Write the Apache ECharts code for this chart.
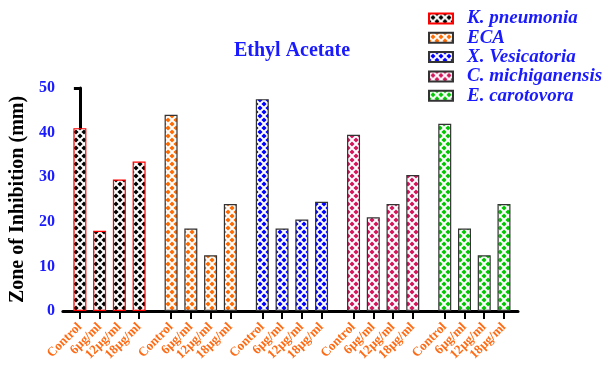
<!DOCTYPE html>
<html>
<head>
<meta charset="utf-8">
<script src="https://cdn.jsdelivr.net/npm/echarts@6/dist/echarts.min.js"></script>
<style>html,body{margin:0;padding:0;background:#fff}#c{width:605px;height:371px}</style>
</head>
<body>
<div id="c"></div>
<script>
// ---- data ----
const doseLabels = ['Control', '6µg/ml', '12µg/ml', '18µg/ml'];
const seriesNames = ['K. pneumonia', 'ECA', 'X. Vesicatoria', 'C. michiganensis', 'E. carotovora'];
const kPneumonia = [41, 18, 29.5, 33.5];
const eca = [44, 18.5, 12.5, 24];
const xVesicatoria = [47.5, 18.5, 20.5, 24.5];
const cMichiganensis = [39.5, 21, 24, 30.5];
const eCarotovora = [42, 18.5, 12.5, 24];
const yTicks = [0, 10, 20, 30, 40, 50];

// ---- styling ----
const dotColors = ['#000000', '#FF6A00', '#0000FF', '#D4145A', '#00C800'];
const borderColors = ['#FF0000', '#333333', '#333333', '#333333', '#333333'];
const serif = 'Liberation Serif';
const groupStep = 4.62;

function makePattern(color) {
  const s = 8;
  const cv = document.createElement('canvas');
  cv.width = s; cv.height = s;
  const ctx = cv.getContext('2d');
  ctx.fillStyle = '#ffffff';
  ctx.fillRect(0, 0, s, s);
  ctx.fillStyle = color;
  const r = 2.6;
  const pts = [[0,0],[s,0],[0,s],[s,s],[s/2,s/2]];
  pts.forEach(([x,y]) => {
    ctx.beginPath();
    ctx.moveTo(x, y - r); ctx.lineTo(x + r, y); ctx.lineTo(x, y + r); ctx.lineTo(x - r, y); ctx.closePath();
    ctx.fill();
  });
  return cv;
}

const allValues = [kPneumonia, eca, xVesicatoria, cMichiganensis, eCarotovora];
const positions = [];
const posLabels = [];
allValues.forEach((vals, g) => {
  vals.forEach((v, i) => { positions.push(g * groupStep + i); posLabels.push(doseLabels[i]); });
});
function labelFor(v) {
  for (let k = 0; k < positions.length; k++) if (Math.abs(positions[k] - v) < 1e-6) return posLabels[k];
  return '';
}

const series = allValues.map((vals, g) => ({
  name: seriesNames[g],
  type: 'bar',
  barWidth: 13,
  barGap: '-100%',
  data: vals.map((v, i) => [g * groupStep + i, v]),
  itemStyle: {
    color: { image: makePattern(dotColors[g]), repeat: 'repeat' },
    borderColor: borderColors[g],
    borderWidth: 1.2
  }
}));

const chart = echarts.init(document.getElementById('c'), null, { renderer: 'canvas' });
chart.setOption({
  animation: false,
  backgroundColor: '#ffffff',
  title: {
    text: 'Ethyl Acetate',
    left: 292, top: 41, textAlign: 'center', padding: 0,
    textStyle: { fontFamily: serif, fontSize: 20, fontWeight: 'bold', color: '#1a1aff' }
  },
  legend: {
    orient: 'vertical',
    left: 428, top: 9, padding: 0,
    itemWidth: 24, itemHeight: 10, itemGap: 0.3,
    icon: 'rect',
    textStyle: { fontFamily: serif, fontSize: 19, fontWeight: 'bold', fontStyle: 'italic', color: '#1a1aff', padding: [0,0,0,9] },
    data: seriesNames
  },
  grid: { left: 62, right: 87, top: 88, bottom: 60, containLabel: false },
  xAxis: {
    type: 'value',
    min: -0.86, max: 4 * groupStep + 3 + 0.71,
    splitLine: { show: false },
    axisLine: { show: true, onZero: false, lineStyle: { color: '#000', width: 3 } },
    axisTick: { show: true, customValues: positions, length: 8, inside: false, lineStyle: { color: '#000', width: 2 } },
    axisLabel: {
      customValues: positions,
      formatter: v => labelFor(v),
      rotate: 45, margin: 14,
      fontFamily: serif, fontSize: 13, fontWeight: 'bold', color: '#FF6A13'
    }
  },
  yAxis: {
    type: 'value', min: 0, max: 50, interval: 10,
    name: 'Zone of Inhibition (mm)', nameLocation: 'middle', nameGap: 30, nameRotate: 90,
    nameTextStyle: { fontFamily: serif, fontSize: 20, fontWeight: 'bold', color: '#000' },
    splitLine: { show: false },
    axisLine: { show: true, lineStyle: { color: '#000', width: 3 } },
    axisTick: { show: true, length: 6, lineStyle: { color: '#000', width: 3 } },
    axisLabel: { fontFamily: serif, fontSize: 16, fontWeight: 'bold', color: '#1a1aff', margin: 8 }
  },
  series: series
});
</script>
</body>
</html>
